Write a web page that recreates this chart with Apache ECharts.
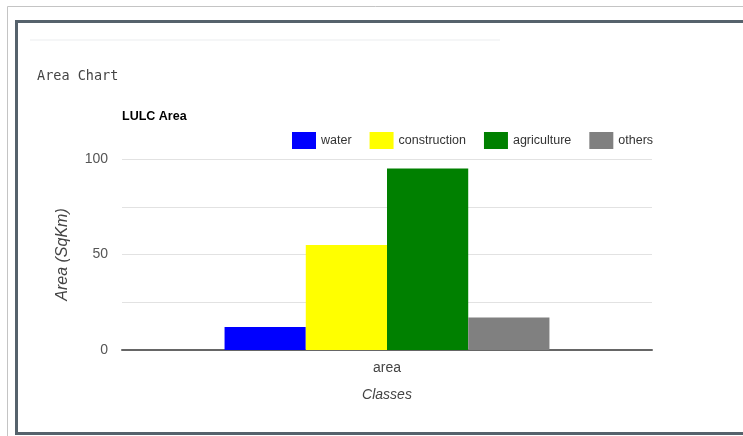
<!DOCTYPE html>
<html>
<head>
<meta charset="utf-8">
<script src="https://cdn.jsdelivr.net/npm/echarts@6/dist/echarts.min.js"></script>
<style>
  html, body { margin: 0; padding: 0; background: #ffffff; }
  #chart { width: 743px; height: 436px; }
</style>
</head>
<body>
<div id="chart"></div>
<script>
// Land use / land cover classes and their areas (sq km)
const categories = ['area'];
const seriesNames = ['water', 'construction', 'agriculture', 'others'];
const seriesValues = [[12], [55], [95], [17]];
const seriesColors = ['#0000ff', '#ffff00', '#008000', '#808080'];
const yTicks = [0, 25, 50, 75, 100];

const sans = "'Liberation Sans', Arial, sans-serif";

const chart = echarts.init(document.getElementById('chart'), null, { renderer: 'canvas' });

chart.setOption({
  backgroundColor: '#ffffff',
  animation: false,
  graphic: [
    // outer light frame
    { type: 'polyline', shape: { points: [[7.5, 436], [7.5, 6.5], [743, 6.5]] },
      style: { stroke: '#c4c4c4', lineWidth: 1, fill: null } },
    // panel frame
    { type: 'polyline', shape: { points: [[743, 21.5], [16.5, 21.5], [16.5, 433.5], [743, 433.5]] },
      style: { stroke: '#56626c', lineWidth: 3, fill: null } },
    // panel header divider
    { type: 'rect', shape: { x: 30, y: 39, width: 470, height: 2 },
      style: { fill: '#f5f6f7' } },
    { type: 'text', left: 37, top: 69,
      style: { text: 'Area Chart', font: "13.5px 'DejaVu Sans Mono', monospace", fill: '#444444' } },
    { type: 'text', left: 122, top: 110,
      style: { text: 'LULC Area', font: "bold 12.5px " + sans, fill: '#000000' } }
  ],
  legend: {
    data: seriesNames,
    left: 292,
    top: 132,
    padding: 0,
    itemWidth: 24,
    itemHeight: 17,
    itemGap: 18,
    icon: 'rect',
    textStyle: { fontFamily: sans, fontSize: 12.5, color: '#333333' }
  },
  grid: { left: 122, right: 91, top: 159, bottom: 86 },
  xAxis: {
    type: 'category',
    data: categories,
    name: 'Classes',
    nameLocation: 'middle',
    nameGap: 38,
    nameTextStyle: { fontFamily: sans, fontSize: 14, fontStyle: 'italic', color: '#444444' },
    axisLine: { lineStyle: { color: '#666666', width: 2 } },
    axisTick: { show: false },
    axisLabel: { fontFamily: sans, fontSize: 14, color: '#444444', margin: 11 }
  },
  yAxis: {
    type: 'value',
    min: yTicks[0],
    max: yTicks[yTicks.length - 1],
    interval: 25,
    name: 'Area (SqKm)',
    nameLocation: 'middle',
    nameRotate: 90,
    nameGap: 51,
    nameTextStyle: { fontFamily: sans, fontSize: 16, fontStyle: 'italic', color: '#444444' },
    axisLine: { show: false },
    axisTick: { show: false },
    axisLabel: {
      fontFamily: sans, fontSize: 14, color: '#555555', margin: 14,
      formatter: v => (v % 50 === 0 ? String(v) : '')
    },
    splitLine: { lineStyle: { color: '#e2e2e2', width: 1 } }
  },
  series: seriesNames.map((name, i) => ({
    name,
    type: 'bar',
    data: seriesValues[i],
    itemStyle: { color: seriesColors[i] },
    barGap: '0%',
    barCategoryGap: '38.7%'
  }))
});
</script>
</body>
</html>
